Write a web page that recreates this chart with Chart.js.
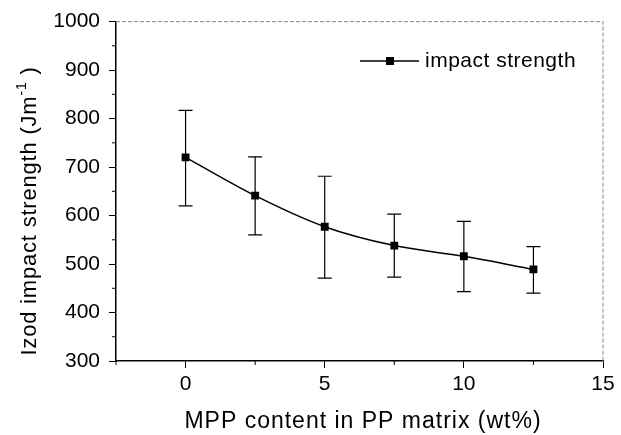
<!DOCTYPE html>
<html>
<head>
<meta charset="utf-8">
<script src="https://cdn.jsdelivr.net/npm/chart.js@4.4.0/dist/chart.umd.min.js"></script>
<style>
  body { margin: 0; background: #fff; }
  #wrap { width: 621px; height: 435px; }
</style>
</head>
<body>
<div id="wrap"><canvas id="impactChart" width="621" height="435"></canvas></div>
<script>
// Data
const mppContent = [0, 2.5, 5, 7.5, 10, 12.5];
const impactStrength = [720, 641, 577, 538, 516, 489];
const errUpper = [817, 721, 681, 603, 588, 536];
const errLower = [620, 560, 471, 473, 443, 440];
const xTicks = [0, 5, 10, 15];
const yTicks = [300, 400, 500, 600, 700, 800, 900, 1000];
const seriesLabel = 'impact strength';
const xTitle = 'MPP content in PP matrix (wt%)';
const yTitle = 'Izod impact strength (Jm';

const FONT = '"Liberation Sans", Arial, sans-serif';

// Error bars, minor ticks, frame, titles and legend drawn after datasets
const extrasPlugin = {
    id: 'extras',
    afterDatasetsDraw(chart) {
        const ctx = chart.ctx;
        const xs = chart.scales.x;
        const ys = chart.scales.y;
        const area = chart.chartArea;
        ctx.save();

        // error bars
        ctx.strokeStyle = '#000';
        ctx.lineWidth = 1.2;
        mppContent.forEach((x, i) => {
            const px = xs.getPixelForValue(x);
            const top = ys.getPixelForValue(errUpper[i]);
            const bot = ys.getPixelForValue(errLower[i]);
            ctx.beginPath();
            ctx.moveTo(px, top); ctx.lineTo(px, bot);
            ctx.moveTo(px - 7, top); ctx.lineTo(px + 7, top);
            ctx.moveTo(px - 7, bot); ctx.lineTo(px + 7, bot);
            ctx.stroke();
        });

        // top and right frame, faint dotted
        ctx.strokeStyle = '#888';
        ctx.lineWidth = 1;
        ctx.setLineDash([4, 2]);
        ctx.beginPath();
        ctx.moveTo(area.left, area.top); ctx.lineTo(area.right, area.top);
        ctx.lineTo(area.right, area.bottom);
        ctx.stroke();
        ctx.setLineDash([]);

        // minor ticks
        ctx.strokeStyle = '#000';
        ctx.lineWidth = 1;
        for (let v = 350; v < 1000; v += 100) {
            const py = ys.getPixelForValue(v);
            ctx.beginPath();
            ctx.moveTo(area.left, py); ctx.lineTo(area.left - 4, py);
            ctx.stroke();
        }
        for (let v = -2.5; v < 15; v += 5) {
            const px = xs.getPixelForValue(v);
            ctx.beginPath();
            ctx.moveTo(px, area.bottom); ctx.lineTo(px, area.bottom + 4);
            ctx.stroke();
        }

        // legend inside plot
        const ly = 61;
        ctx.lineWidth = 1.3;
        ctx.beginPath();
        ctx.moveTo(360, ly); ctx.lineTo(419, ly);
        ctx.stroke();
        ctx.fillStyle = '#000';
        ctx.fillRect(386, ly - 4, 8, 8);
        ctx.font = '21px ' + FONT;
        ctx.letterSpacing = '0.5px';
        ctx.textBaseline = 'middle';
        ctx.textAlign = 'left';
        ctx.fillText(seriesLabel, 425, ly);

        // x axis title
        ctx.font = '23px ' + FONT;
        ctx.letterSpacing = '1px';
        ctx.textBaseline = 'alphabetic';
        ctx.textAlign = 'center';
        ctx.fillText(xTitle, 363, 428);

        // y axis title with superscript
        ctx.translate(36, 211);
        ctx.rotate(-Math.PI / 2);
        ctx.letterSpacing = '0.8px';
        ctx.textAlign = 'left';
        ctx.font = '22px ' + FONT;
        const w1 = ctx.measureText(yTitle).width;
        ctx.font = '14px ' + FONT;
        const w2 = ctx.measureText('-1').width;
        ctx.font = '22px ' + FONT;
        const w3 = ctx.measureText(' )').width;
        let cx = -(w1 + w2 + w3) / 2;
        ctx.fillText(yTitle, cx, 0);
        cx += w1;
        ctx.font = '14px ' + FONT;
        ctx.fillText('-1', cx, -10);
        cx += w2;
        ctx.font = '22px ' + FONT;
        ctx.fillText(' )', cx, 0);

        ctx.restore();
    }
};

new Chart(document.getElementById('impactChart'), {
    type: 'line',
    data: {
        datasets: [{
            label: seriesLabel,
            data: mppContent.map((x, i) => ({ x: x, y: impactStrength[i] })),
            borderColor: '#000',
            backgroundColor: '#000',
            borderWidth: 1.5,
            pointStyle: 'rect',
            pointRadius: 4.5,
            pointBackgroundColor: '#000',
            cubicInterpolationMode: 'monotone',
            fill: false
        }]
    },
    options: {
        responsive: false,
        animation: false,
        layout: { padding: { top: 20, right: 18, left: 0, bottom: 0 } },
        plugins: {
            legend: { display: false },
            tooltip: { enabled: false }
        },
        scales: {
            x: {
                type: 'linear',
                min: -2.5,
                max: 15,
                afterBuildTicks: (scale) => { scale.ticks = xTicks.map(v => ({ value: v })); },
                afterFit: (scale) => { scale.height = 74; },
                grid: { drawOnChartArea: false, drawTicks: true, tickLength: 7, tickColor: '#000' },
                border: { color: '#000', width: 1.5 },
                ticks: { color: '#000', font: { family: FONT, size: 21 }, padding: 4, maxRotation: 0 },
                title: { display: false }
            },
            y: {
                min: 300,
                max: 1000,
                afterBuildTicks: (scale) => { scale.ticks = yTicks.map(v => ({ value: v })); },
                afterFit: (scale) => { scale.width = 116; },
                grid: { drawOnChartArea: false, drawTicks: true, tickLength: 7, tickColor: '#000' },
                border: { color: '#000', width: 1.5 },
                ticks: { color: '#000', font: { family: FONT, size: 21 }, padding: 9, callback: (v) => String(v) },
                title: { display: false }
            }
        }
    },
    plugins: [extrasPlugin]
});
</script>
</body>
</html>
